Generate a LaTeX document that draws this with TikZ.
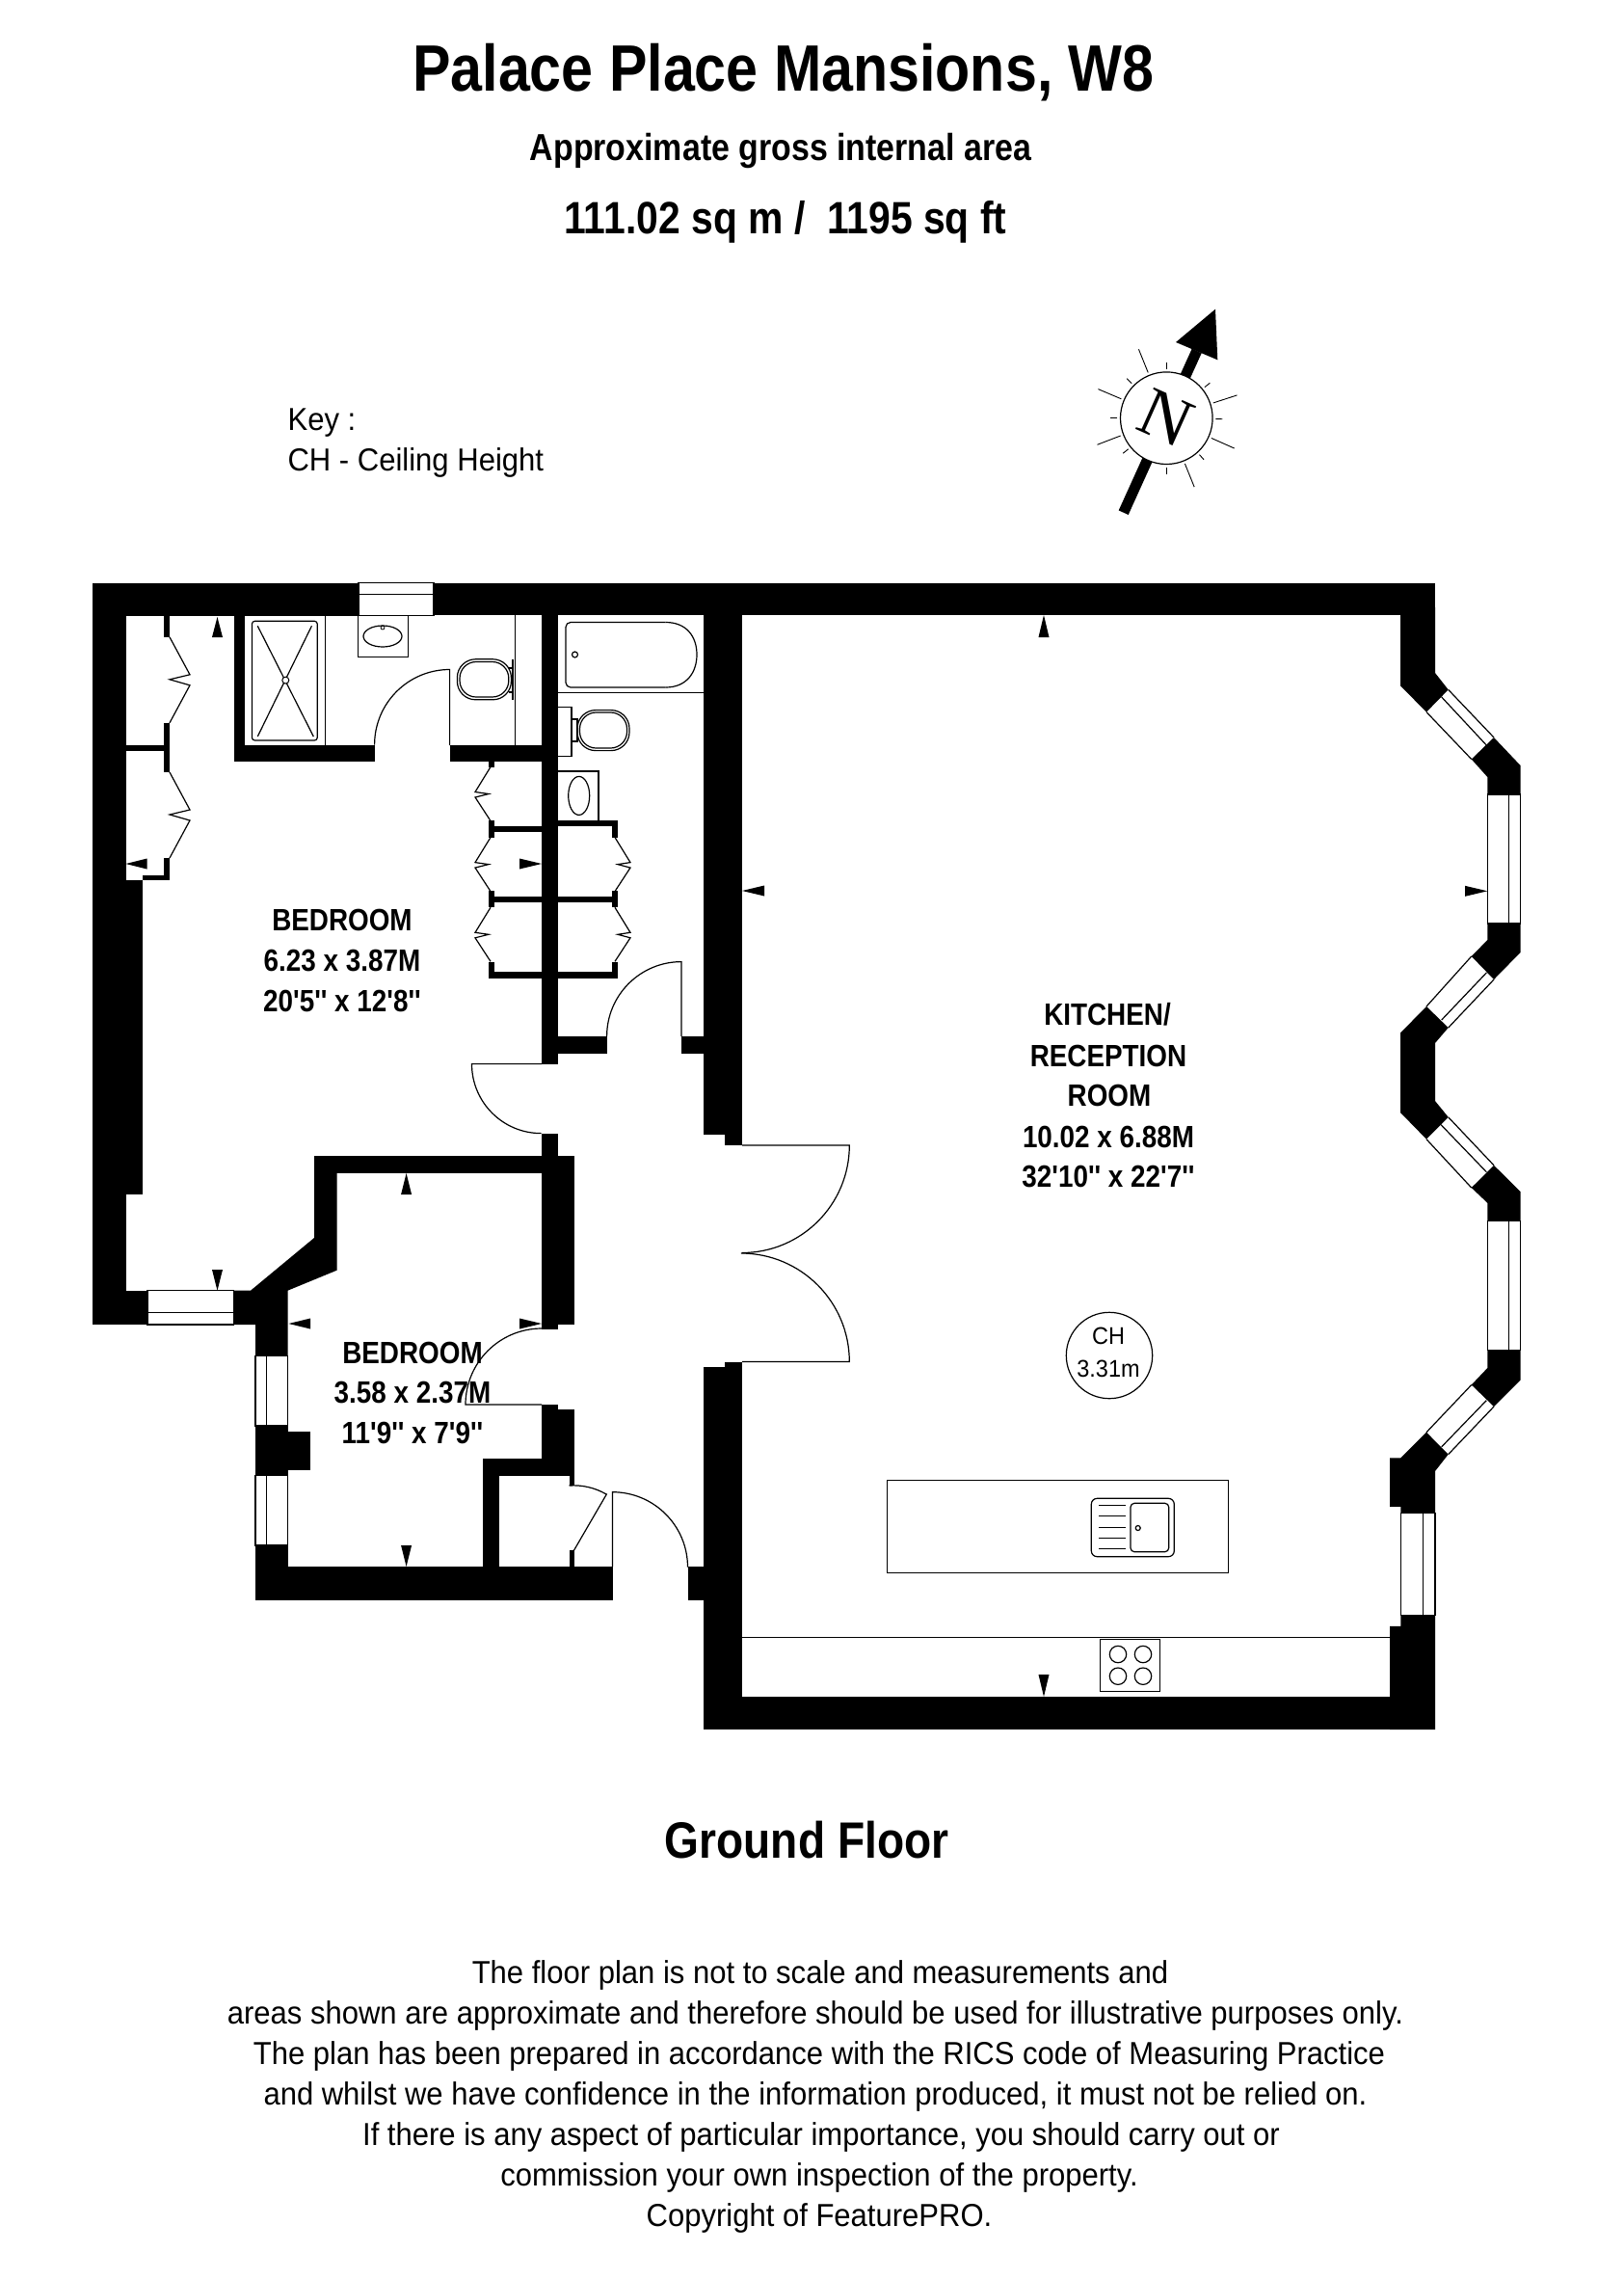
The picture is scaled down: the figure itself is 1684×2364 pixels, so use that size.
\documentclass[tikz,border=0pt]{standalone}
\usepackage{fontspec}
\usepackage{tikz}
\usetikzlibrary{calc}
\newfontfamily\planfont[FakeStretch=0.94]{Liberation Sans}
\newfontfamily\headfont[FakeStretch=0.87]{Liberation Sans}
\newfontfamily\compassfont{Liberation Serif}
\tikzset{
    wall/.style={fill=black},
    fitting/.style={draw=black,line width=1.2pt},
    words/.style={anchor=base,inner sep=0pt},
    roomtext/.style={words,font=\headfont\bfseries\fontsize{32}{32}\selectfont},
    smalltext/.style={words,font=\planfont\fontsize{33}{33}\selectfont},
}
\newcommand{\markV}[3]{\fill (#1,#2) -- ({#1-5.5},#3) -- ({#1+5.5},#3) -- cycle;}
\newcommand{\markH}[3]{\fill (#1,#2) -- (#3,{#2-5.5}) -- (#3,{#2+5.5}) -- cycle;}
\begin{document}
\begin{tikzpicture}[x=1pt,y=-1pt]
        \useasboundingbox (0,0) rectangle (1684,2364);
        % headings
        \node[words,font=\headfont\bfseries\fontsize{68}{68}\selectfont] (title) at (813,94) {Palace Place Mansions, W8};
        \node[words,font=\headfont\bfseries\fontsize{39}{39}\selectfont] (area) at (810,166) {Approximate gross internal area};
        \node[words,font=\headfont\bfseries\fontsize{47}{47}\selectfont] (size) at (815,242.7) {111.02 sq m /\ \ 1195 sq ft};
        \node[smalltext,anchor=base west] (key) at (298.4,446.7) {Key :};
        \node[smalltext,anchor=base west] (keych) at (298.4,488.3) {CH - Ceiling Height};
        % compass
        \draw[line width=11pt] (1165.7,531.7) -- (1241.7,364);
        \fill (1261,320.7) -- (1220,355) -- (1263.3,373.3) -- cycle;
        \node[circle,draw=black,fill=white,line width=1.2pt,minimum size=95.6pt,inner sep=0pt] (compass) at (1210.3,433.7) {};
        \node[rotate=-24,inner sep=0pt,font=\compassfont\fontsize{72}{72}\selectfont] (north) at (compass) {N};
        \foreach \a in {18,112,157,201,292,336}
            \draw[line width=0.9pt] ($(compass)+(\a:51pt)$) -- ($(compass)+(\a:77pt)$);
        \foreach \a in {-48,-1,39,90,135,180,219,270}
            \draw[line width=0.9pt] ($(compass)+(\a:51pt)$) -- ($(compass)+(\a:58pt)$);
        % walls
        \foreach \xa/\ya/\xb/\yb in {96/604.5/372/638.6,450/604.5/1489/638,96/604.5/130.5/1374,
            130.5/913.4/148/1238.8,96/1338.7/153/1374,148/907.6/176/913.4,169.5/890/176/913.4,
            169.5/750/176/801,169.5/638/176/660.8,130.5/773/169.5/779,
            242.5/638/254/790,242.5/773/388.5/790,466.6/773/579/790,
            562/638/579/1103.6,562/1175.5/579/1199,
            506.5/790/512.5/795.5,506.5/851.4/512.5/868.6,506.5/924/512.5/941.3,506.5/997.6/512.5/1015,
            506.5/857/562/863,506.5/930/562/936,506.5/1008/562/1015,
            579/851/641/857,579/930/641/936,579/1008/641/1015,
            635/851/641/868.6,635/924/641/941.3,635/997.6/641/1015,
            579/1075/629.6/1093,707/1075/730/1093,
            730/604.5/770/1176.8,752/1176/770/1188,752/1412.5/770/1794,730/1418/752/1794,
            713.6/1625/730/1659.6,730/1760/1488/1794,
            326/1199/595.6/1217,562/1199/595.6/1374,562/1374/579/1378.6,
            265/1479/298.5/1530.5,298.5/1484.7/322/1524.6,265/1603/298.5/1625,265/1625/635.5/1659.6,
            500.6/1513.3/518/1625,500.6/1513.3/595.6/1530.5,562/1457/579/1513.3,579/1462/595.6/1530.5,
            590.5/1530/595.6/1541,590.5/1608/595.6/1625}
            \fill[wall] (\xa,\ya) rectangle (\xb,\yb);
        \fill[wall] (326,1199) -- (349.5,1199) -- (349.5,1317.7) -- (298.5,1338.7) -- (298.5,1406.5) -- (265,1406.5) -- (265,1374) -- (242.5,1374) -- (242.5,1338.7) -- (260,1338.7) -- (326,1284) -- cycle;
        % bay walls
        \fill[wall] (1453,630) -- (1489,630) -- (1489,698) -- (1502.7,715.4) -- (1480,738.6) -- (1453,711.4) -- cycle;
        \fill[wall] (1550,765) -- (1577.5,794) -- (1577.5,824) -- (1543.3,824) -- (1543.3,806) -- (1526.7,787.5) -- cycle;
        \fill[wall] (1543.3,958) -- (1577.5,958) -- (1577.5,988) -- (1550,1016) -- (1526.7,992) -- (1543.3,975) -- cycle;
        \fill[wall] (1480,1044) -- (1502.7,1066) -- (1489,1082) -- (1489,1142) -- (1502.7,1158.8) -- (1480,1181.7) -- (1453,1154) -- (1453,1071.4) -- cycle;
        \fill[wall] (1550,1208.8) -- (1577.5,1236) -- (1577.5,1266.7) -- (1543.3,1266.7) -- (1543.3,1247.8) -- (1526.7,1232) -- cycle;
        \fill[wall] (1543.3,1400.7) -- (1577.5,1400.7) -- (1577.5,1431.5) -- (1550,1459) -- (1526.7,1436.5) -- (1543.3,1419) -- cycle;
        \fill[wall] (1480,1485.7) -- (1502.7,1508.6) -- (1489,1526) -- (1489,1569.7) -- (1453.3,1569.7) -- (1453.3,1562.8) -- (1442,1562.8) -- (1442,1512.3) -- (1453.3,1512.3) -- cycle;
        \fill[wall] (1453.3,1675.8) -- (1489,1675.8) -- (1489,1794) -- (1442,1794) -- (1442,1686.8) -- (1453.3,1686.8) -- cycle;
        % windows
        \draw[fitting] (372,604.5) rectangle (450,638.6) (372,616.4) -- (450,616.4);
        \draw[fitting] (153,1338.7) rectangle (242.5,1374) (153,1361.4) -- (242.5,1361.4);
        \draw[fitting] (265,1406.5) rectangle (298.5,1479) (276.5,1406.5) -- (276.5,1479);
        \draw[fitting] (265,1530.5) rectangle (298.5,1603) (276.5,1530.5) -- (276.5,1603);
        \draw[fitting] (1543.3,824) rectangle (1577.5,958) (1565.7,824) -- (1565.7,958);
        \draw[fitting] (1543.3,1266.7) rectangle (1577.5,1400.7) (1565.7,1266.7) -- (1565.7,1400.7);
        \draw[fitting] (1453.3,1569.7) rectangle (1489,1675.8) (1476.3,1569.7) -- (1476.3,1675.8);
        \draw[fitting] (1480,738.6) -- (1526.7,787.5) (1502.7,715.4) -- (1550,765) (1495.7,723) -- (1542.3,773);
        \draw[fitting] (1526.7,992) -- (1480,1044) (1550,1016) -- (1502.7,1066) (1542.3,1009) -- (1495.7,1058);
        \draw[fitting] (1480,1181.7) -- (1526.7,1232) (1502.7,1158.8) -- (1550,1208.8) (1495,1166.6) -- (1542.3,1215.7);
        \draw[fitting] (1526.7,1436.5) -- (1480,1485.7) (1550,1459) -- (1502.7,1508.6) (1542.3,1452.6) -- (1495.7,1500.8);
        % doors
        \draw[fitting] (466.6,773) -- (466.6,694.5) arc[start angle=90,end angle=180,radius=78pt];
        \draw[fitting] (707,1075) -- (707,997.6) arc[start angle=90,end angle=180,radius=77.4pt];
        \draw[fitting] (562,1103.6) -- (489.5,1103.6) arc[start angle=180,end angle=270,radius=72pt];
        \draw[fitting] (770,1188) -- (881.3,1188) arc[start angle=0,end angle=-90,radius=111.5pt];
        \draw[fitting] (770,1412.5) -- (881.3,1412.5) arc[start angle=0,end angle=90,radius=112.5pt];
        \draw[fitting] (562,1457) -- (483,1457) arc[start angle=180,end angle=90,radius=79pt];
        \draw[fitting] (595.6,1608) -- (629.6,1549.5);
        \draw[fitting] (590.5,1541) arc[start angle=94,end angle=60,radius=67.5pt];
        \draw[fitting] (635.5,1625) -- (635.5,1547.7) arc[start angle=90,end angle=0,radius=78pt];
        % folding wardrobe doors
        \foreach \ya in {660.8,801}
            \draw[fitting] (176,\ya) -- (197,{\ya+39}) -- (176,{\ya+44}) -- (197,{\ya+50}) -- (176,{\ya+89});
        \foreach \ya in {795.5,868.6,941.3}
            \draw[fitting] (509,\ya) -- (493,{\ya+26}) -- (507,{\ya+28}) -- (493,{\ya+31.5}) -- (509,{\ya+56});
        \foreach \ya in {868.6,941.3}
            \draw[fitting] (638,\ya) -- (654,{\ya+26}) -- (641,{\ya+28}) -- (654,{\ya+31.5}) -- (638,{\ya+56});
        % shower room
        \draw[fitting,rounded corners=3pt] (261.4,644.3) rectangle (329.3,768);
        \draw[fitting] (337.6,638.6) -- (337.6,773);
        \draw[fitting] (267.3,649.3) -- (325.3,764) (323.4,649.3) -- (267.3,764);
        \node[circle,draw=black,fill=white,line width=1pt,minimum size=7pt,inner sep=0pt] (drain) at (296.3,705.6) {};
        \draw[fitting] (371.6,638.6) rectangle (423.4,681.5);
        \draw[fitting] (397,660) ellipse[x radius=20pt,y radius=11pt];
        \draw[line width=0.8pt] (397,651) circle[radius=2pt];
        \draw[fitting] (534.5,638) -- (534.5,773);
        \draw[line width=2pt] (532,683.8) -- (532,726);
        \draw[fitting] (527.6,693) -- (532,693) (527.6,718) -- (532,718);
        \draw[fitting,rounded corners=19pt] (474.4,683.8) rectangle (530.4,725.8);
        \draw[fitting,rounded corners=17pt] (477,686.5) rectangle (527.8,723);
        % bathroom
        \draw[fitting,rounded corners=5pt] (690.6,645.5) -- (587,645.5) -- (587,713) -- (690.6,713);
        \draw[fitting] (690.6,645.5) .. controls (712,645.5) and (723,660) .. (723,679) .. controls (723,698) and (712,713) .. (690.6,713);
        \draw[fitting] (596.5,679) circle[radius=3pt];
        \draw[fitting] (579,718.6) -- (730,718.6);
        \draw[fitting] (579,733.5) -- (593,733.5) -- (593,784.4) -- (579,784.4);
        \draw[fitting] (593,746) -- (599,746) -- (599,769) -- (593,769);
        \draw[fitting,rounded corners=19pt] (599,736.6) rectangle (653,778.6);
        \draw[fitting,rounded corners=17pt] (601.5,739) rectangle (650.5,776);
        \draw[fitting] (579,800) -- (621,800) -- (621,851);
        \draw[fitting] (600.7,825.4) ellipse[x radius=11pt,y radius=20pt];
        % kitchen
        \draw[fitting] (920.3,1535.3) rectangle (1274.7,1631.3);
        \draw[fitting,rounded corners=6pt] (1132.3,1554.3) rectangle (1218.3,1614.7);
        \draw[fitting,rounded corners=4pt] (1173,1559.3) rectangle (1212.7,1609.7);
        \draw[fitting] (1180.7,1585) circle[radius=2.5pt];
        \foreach \yy in {1561.3,1572.3,1584.3,1595.3,1606.3}
            \draw[fitting] (1140,\yy) -- (1168,\yy);
        \draw[fitting] (770,1698.3) -- (1442,1698.3);
        \draw[fitting] (1141.3,1700.3) rectangle (1203.7,1754.3);
        \foreach \xx in {1160,1186}
            \foreach \yy in {1716,1738.7}
                \draw[fitting] (\xx,\yy) circle[radius=8.7pt];
        % height marks
        \markV{225.5}{640}{661}
        \markV{421.6}{1217}{1239}
        \markV{225.5}{1338.7}{1317}
        \markV{421.6}{1625}{1603}
        \markV{1083}{638}{661}
        \markV{1083}{1760}{1737}
        \markH{130.5}{896}{152.5}
        \markH{562}{896}{539}
        \markH{770}{924}{793}
        \markH{1543.3}{924.3}{1520}
        \markH{299.5}{1373}{322}
        \markH{562}{1373}{539}
        % room labels
        \node[roomtext] (bedonea) at (355,965.8) {BEDROOM};
        \node[roomtext] (bedoneb) at (355,1007) {6.23 x 3.87M};
        \node[roomtext] (bedonec) at (355,1049) {20'5'' x 12'8''};
        \node[roomtext] (bedtwoa) at (428,1414.5) {BEDROOM};
        \node[roomtext] (bedtwob) at (428,1455.8) {3.58 x 2.37M};
        \node[roomtext] (bedtwoc) at (428,1497.8) {11'9'' x 7'9''};
        \node[roomtext] (kitchena) at (1149,1063.3) {KITCHEN/};
        \node[roomtext] (kitchenb) at (1150,1106) {RECEPTION};
        \node[roomtext] (kitchenc) at (1151,1147.7) {ROOM};
        \node[roomtext] (kitchend) at (1150,1190) {10.02 x 6.88M};
        \node[roomtext] (kitchene) at (1150,1231.3) {32'10'' x 22'7''};
        \node[circle,draw=black,line width=1.2pt,minimum size=89.4pt,inner sep=0pt] (ceiling) at (1151,1406) {};
        \node[words,font=\planfont\fontsize{25}{25}\selectfont] (ceilinga) at (1150,1394.3) {CH};
        \node[words,font=\planfont\fontsize{25}{25}\selectfont] (ceilingb) at (1150,1428.3) {3.31m};
        % footer
        \node[words,font=\headfont\bfseries\fontsize{53}{53}\selectfont] (floor) at (837,1927.7) {Ground Floor};
        \node[smalltext] (notea) at (851,2057.3) {The floor plan is not to scale and measurements and};
        \node[smalltext] (noteb) at (846,2099.3) {areas shown are approximate and therefore should be used for illustrative purposes only.};
        \node[smalltext] (notec) at (850,2141.3) {The plan has been prepared in accordance with the RICS code of Measuring Practice};
        \node[smalltext] (noted) at (846,2183.3) {and whilst we have confidence in the information produced, it must not be relied on.};
        \node[smalltext] (notee) at (852,2225.3) {If there is any aspect of particular importance, you should carry out or};
        \node[smalltext] (notef) at (850,2267.3) {commission your own inspection of the property.};
        \node[smalltext] (noteg) at (850,2309.3) {Copyright of FeaturePRO.};
     \end{tikzpicture}
\end{document}
